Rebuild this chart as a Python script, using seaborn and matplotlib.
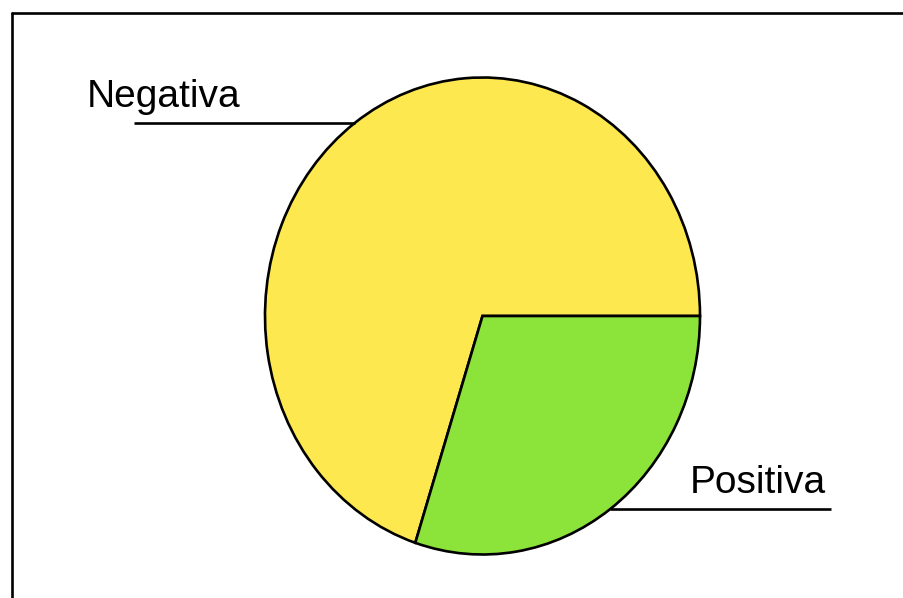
import numpy as np
import matplotlib
matplotlib.use("Agg")
import matplotlib.pyplot as plt
import seaborn as sns
from matplotlib.lines import Line2D

labels = ["Negativa", "Positiva"]
values = [70, 30]
colors = ["#FDE84F", "#8CE33A"]

sns.set_theme(style="white")
plt.rcParams['font.family'] = ['Liberation Sans', 'DejaVu Sans']

W, H = 904, 598
fig = plt.figure(figsize=(W / 100, H / 100), dpi=100)
ax = fig.add_axes([0, 0, 1, 1])

cx, cy = 482.5, 316.0   # pixel centre (from top)
rx, ry = 217.5, 238.5   # pixel radii

wedges, _ = ax.pie(values, colors=colors, startangle=0, counterclock=True,
                   wedgeprops=dict(edgecolor="black", linewidth=1.9),
                   radius=1.0)
ax.set_aspect('auto')
ax.set_xlim(-cx / rx, (W - cx) / rx)
ax.set_ylim(-(H - cy) / ry, cy / ry)
ax.axis('off')

# leader lines + labels
line_len = 1.6
for w, lab in zip(wedges, labels):
    mid = np.deg2rad((w.theta1 + w.theta2) / 2)
    x0, y0 = np.cos(mid), np.sin(mid)
    side = np.sign(x0)
    x1 = side * line_len
    ax.plot([x0, x1], [y0, y0], color="black", lw=1.9, solid_capstyle='butt')
    ty = y0 + 16 / ry
    if side < 0:
        ax.text(x1 - 48 / rx, ty, lab, ha='left', va='baseline', fontsize=28, color='black')
    else:
        ax.text(x1 - 5 / rx, ty, lab, ha='right', va='baseline', fontsize=28, color='black')

# outer frame (partially cut at right/bottom)
fx = 11.5 / W
fy = 1 - 12.5 / H
fig.add_artist(Line2D([fx, fx], [fy, -0.1], transform=fig.transFigure, color="black", lw=1.9))
fig.add_artist(Line2D([fx, 1.1], [fy, fy], transform=fig.transFigure, color="black", lw=1.9))

fig.savefig("out.png", dpi=100)
